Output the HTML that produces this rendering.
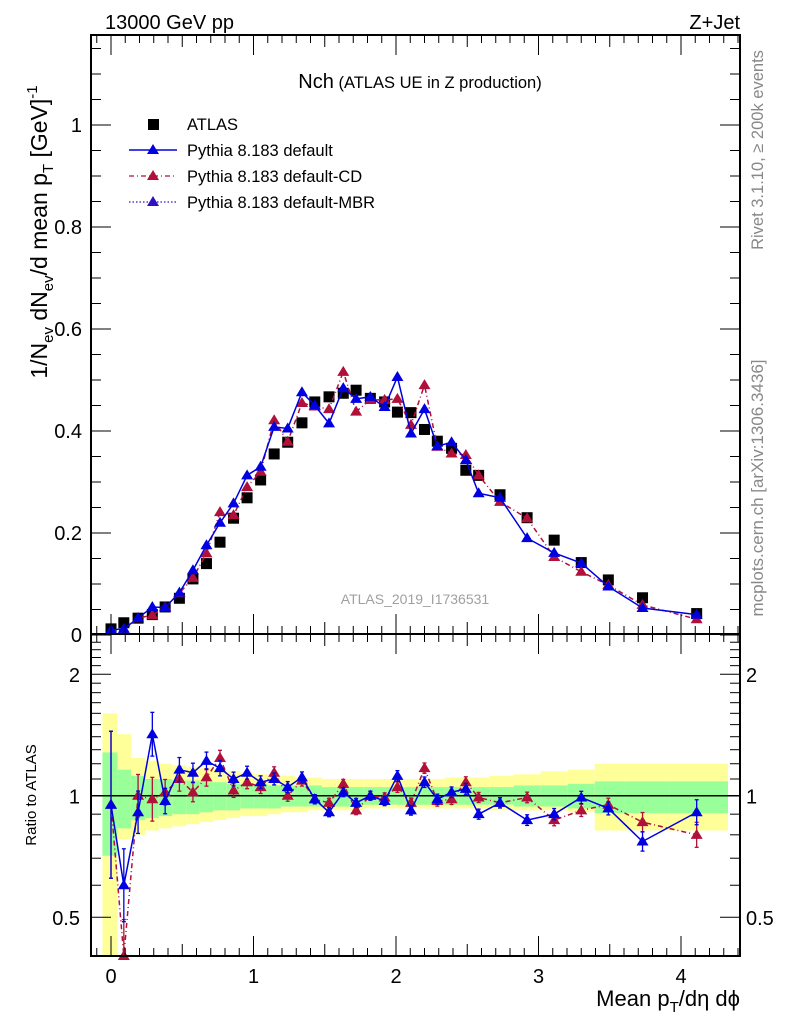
<!DOCTYPE html>
<html><head><meta charset="utf-8"><style>
body{margin:0;background:#fff}
svg text{font-family:"Liberation Sans",sans-serif}
</style></head><body>
<svg id="c" width="786" height="1024" xmlns="http://www.w3.org/2000/svg">
<g id="bands"></g><g id="marks"></g><g id="axes"></g>
<text x="105" y="29" font-size="20">13000 GeV pp</text>
<text x="740" y="29" font-size="20" text-anchor="end">Z+Jet</text>
<text x="420" y="88" text-anchor="middle"><tspan font-size="20">Nch</tspan><tspan font-size="16.5"> (ATLAS UE in Z production)</tspan></text>
<g font-size="16.5">
<rect x="148" y="119" width="11" height="11" fill="#000"/>
<text x="187" y="130">ATLAS</text>
<line x1="129" y1="150" x2="177" y2="150" stroke="#0000e0" stroke-width="1.5"/>
<path d="M153 144 L159 154 L147 154Z" fill="#0000e0"/>
<text x="187" y="156">Pythia 8.183 default</text>
<line x1="129" y1="176" x2="177" y2="176" stroke="#b0103a" stroke-width="1.3" stroke-dasharray="5,3,1,3"/>
<path d="M153 170 L159 180 L147 180Z" fill="#b0103a"/>
<text x="187" y="182">Pythia 8.183 default-CD</text>
<line x1="129" y1="202" x2="177" y2="202" stroke="#3010c0" stroke-width="1.3" stroke-dasharray="1.5,2"/>
<path d="M153 196 L159 206 L147 206Z" fill="#3010c0"/>
<text x="187" y="208">Pythia 8.183 default-MBR</text>
</g>
<text x="415" y="604" font-size="14" fill="#a0a0a0" text-anchor="middle">ATLAS_2019_I1736531</text>
<text transform="translate(763,150) rotate(-90)" font-size="16.5" fill="#888" text-anchor="middle">Rivet 3.1.10, ≥ 200k events</text>
<text transform="translate(763,488) rotate(-90)" font-size="17" fill="#888" text-anchor="middle">mcplots.cern.ch [arXiv:1306.3436]</text>
<text transform="translate(47,232) rotate(-90)" font-size="23" text-anchor="middle">1/N<tspan font-size="15" dy="6">ev</tspan><tspan dy="-6"> dN</tspan><tspan font-size="15" dy="6">ev</tspan><tspan dy="-6">/d mean p</tspan><tspan font-size="15" dy="6">T</tspan><tspan dy="-6"> [GeV]</tspan><tspan font-size="15" dy="-10">-1</tspan></text>
<text transform="translate(36,795) rotate(-90)" font-size="15" text-anchor="middle">Ratio to ATLAS</text>
<text x="740" y="1006" font-size="22" text-anchor="end">Mean p<tspan font-size="15" dy="6">T</tspan><tspan dy="-6">/dη dϕ</tspan></text>
</svg>
<script>
const xs=[0,0.09,0.19,0.29,0.38,0.48,0.575,0.67,0.765,0.86,0.955,1.05,1.145,1.24,1.34,1.43,1.53,1.63,1.72,1.82,1.92,2.01,2.105,2.2,2.29,2.39,2.49,2.58,2.73,2.92,3.11,3.30,3.49,3.73,4.11];
const atlas=[0.012,0.024,0.033,0.04,0.055,0.072,0.11,0.14,0.182,0.229,0.269,0.304,0.355,0.378,0.416,0.457,0.467,0.474,0.48,0.464,0.457,0.437,0.436,0.403,0.38,0.366,0.323,0.313,0.275,0.23,0.186,0.142,0.108,0.073,0.042];
const pyDef=[0.01,0.012,0.033,0.055,0.054,0.083,0.127,0.176,0.22,0.258,0.313,0.33,0.408,0.405,0.476,0.45,0.415,0.484,0.463,0.467,0.447,0.506,0.395,0.443,0.37,0.378,0.343,0.278,0.269,0.19,0.161,0.141,0.095,0.053,0.04];
const pyCD=[0.008,0.008,0.033,0.039,0.055,0.082,0.112,0.16,0.241,0.235,0.29,0.32,0.421,0.379,0.455,0.448,0.443,0.516,0.438,0.461,0.461,0.463,0.412,0.49,0.369,0.356,0.353,0.313,0.261,0.229,0.153,0.124,0.098,0.059,0.031];
const rDef=[0.95,0.6,0.91,1.42,0.97,1.16,1.14,1.22,1.17,1.1,1.14,1.08,1.1,1.05,1.11,0.98,0.91,1.02,0.96,1.0,0.97,1.12,0.92,1.08,0.98,1.02,1.04,0.9,0.96,0.87,0.9,0.99,0.93,0.77,0.91];
const rCD=[0.95,0.37,1.0,0.98,1.02,1.1,1.02,1.11,1.24,1.03,1.08,1.05,1.14,1.0,1.09,0.98,0.96,1.07,0.92,1.0,0.99,1.05,0.96,1.17,0.97,0.98,1.08,0.99,0.96,0.99,0.87,0.92,0.95,0.86,0.8];
const errAbs=[0.006,0.005,0.004,0.005,0.004,0.005,0.006,0.007,0.008,0.009,0.01,0.011,0.012,0.012,0.013,0.012,0.012,0.012,0.012,0.012,0.012,0.013,0.012,0.012,0.011,0.011,0.01,0.009,0.008,0.007,0.006,0.005,0.004,0.004,0.003];
const gHi=[1.28,1.16,1.12,1.10,1.10,1.09,1.09,1.08,1.08,1.07,1.07,1.07,1.06,1.06,1.06,1.06,1.05,1.05,1.05,1.05,1.05,1.05,1.05,1.05,1.05,1.05,1.05,1.05,1.05,1.06,1.06,1.07,1.085,1.085,1.085];
const gLo=[0.71,0.83,0.87,0.88,0.89,0.90,0.90,0.91,0.92,0.92,0.93,0.93,0.93,0.94,0.94,0.94,0.94,0.94,0.94,0.95,0.95,0.95,0.95,0.95,0.95,0.95,0.95,0.95,0.95,0.94,0.94,0.93,0.905,0.905,0.905];
const yHi=[1.60,1.42,1.24,1.22,1.20,1.19,1.18,1.17,1.16,1.15,1.14,1.13,1.12,1.12,1.11,1.11,1.10,1.10,1.10,1.10,1.10,1.10,1.10,1.10,1.10,1.11,1.11,1.11,1.12,1.13,1.15,1.16,1.20,1.20,1.20];
const yLo=[0.40,0.78,0.80,0.82,0.83,0.84,0.85,0.86,0.87,0.88,0.89,0.89,0.90,0.91,0.91,0.92,0.92,0.92,0.92,0.93,0.93,0.93,0.93,0.93,0.93,0.93,0.93,0.93,0.92,0.92,0.92,0.91,0.82,0.82,0.82];
const xTicks=[0,1,2,3,4];
const yTicks=[0,0.2,0.4,0.6,0.8,1];
const yTickLabels=["0","0.2","0.4","0.6","0.8","1"];
const rTicks=[0.5,1,2];
const rTickLabels=["0.5","1","2"];

const L=91,R=740,T=35,MB=634,RB=956;
const X=u=>111+142.5*u;
const Y=v=>635-510*v;
const RY=r=>Math.min(RB,Math.max(MB,795.7-121.5*Math.log2(r)));
const NS="http://www.w3.org/2000/svg";
function mk(p,tag,at){const e=document.createElementNS(NS,tag);for(const k in at)e.setAttribute(k,at[k]);p.appendChild(e);return e;}
const bands=document.getElementById('bands'),marks=document.getElementById('marks'),axes=document.getElementById('axes');
const edges=[-0.06];
for(let i=0;i<xs.length-1;i++)edges.push((xs[i]+xs[i+1])/2);
edges.push(4.33);
for(let i=0;i<xs.length;i++){
 const a=X(edges[i]),b=X(edges[i+1]);
 const ry=mk(bands,'rect',{x:a,y:RY(yHi[i]),width:b-a,height:RY(yLo[i])-RY(yHi[i]),fill:'#ffff99'});
 
 
 const rg=mk(bands,'rect',{x:a,y:RY(gHi[i]),width:b-a,height:RY(gLo[i])-RY(gHi[i]),fill:'#99ff99'});
 
 
}
const one=mk(bands,'line',{x1:L,x2:R,y1:RY(1),y2:RY(1),stroke:'#000','stroke-width':1.5});



function tri(g,x,y,c){return mk(g,'path',{d:`M${x} ${y-6} L${x+6} ${y+4} L${x-6} ${y+4}Z`,fill:c});}
function series(vals,fy,errs,color,dash,name){
 const g=mk(marks,'g',{});
 
 
 const pts=vals.map((v,i)=>X(xs[i])+','+fy(v,i)).join(' ');
 const pl=mk(g,'polyline',{points:pts,fill:'none',stroke:color,'stroke-width':1.5});
 if(dash)pl.setAttribute('stroke-dasharray',dash);
 vals.forEach((v,i)=>{
  const x=X(xs[i]),y=fy(v,i),e=errs(i);
  const y1=Math.max(MB,Math.min(RB,y-e)),y2=Math.max(MB,Math.min(RB,y+e));
  mk(g,'line',{x1:x,x2:x,y1:y1,y2:y2,stroke:color,'stroke-width':1.3});
  mk(g,'line',{x1:x-2,x2:x+2,y1:y1,y2:y1,stroke:color,'stroke-width':1.3});
  mk(g,'line',{x1:x-2,x2:x+2,y1:y2,y2:y2,stroke:color,'stroke-width':1.3});
  const t=tri(g,x,y,color);
  
  
 });
}
atlas.forEach((v,i)=>{
 const s=mk(marks,'rect',{x:X(xs[i])-5.5,y:Y(v)-5.5,width:11,height:11,fill:'#000'});
 
 
});
series(pyCD,v=>Y(v),i=>errAbs[i]*510,'#b0103a','5,3,1,3','default-cd-main');
series(pyDef,v=>Y(v),i=>errAbs[i]*510,'#0000e0',null,'default-main');
const rErr=i=>Math.min(0.42,errAbs[i]/atlas[i])*121.5*1.44;
series(rCD,v=>RY(v),rErr,'#b0103a','5,3,1,3','default-cd-ratio');
series(rDef,v=>RY(v),rErr,'#0000e0',null,'default-ratio');

const f1=mk(axes,'rect',{x:L,y:T,width:R-L,height:MB-T,fill:'none',stroke:'#000','stroke-width':2});

const f2=mk(axes,'rect',{x:L,y:MB,width:R-L,height:RB-MB,fill:'none',stroke:'#000','stroke-width':2});

for(let k=-1;k<=44;k++){const u=k/10,x=X(u);if(x<L||x>R)continue;const big=k%10===0,len=big?20:(k%5===0?12:8);
 [[T,1],[MB,-1],[MB,1],[RB,-1]].forEach(([y0,d])=>mk(axes,'line',{x1:x,x2:x,y1:y0,y2:y0+d*len,stroke:'#000','stroke-width':1}));}
xTicks.forEach(u=>{const t=mk(axes,'text',{x:X(u),y:983,'font-size':20,'text-anchor':'middle'});t.textContent=String(u);
 });
for(let k=0;k<=23;k++){const v=k*0.05,y=Y(v);if(y<T)continue;const big=k%4===0,len=big?20:10;
 mk(axes,'line',{x1:L,x2:L+len,y1:y,y2:y,stroke:'#000'});mk(axes,'line',{x1:R,x2:R-len,y1:y,y2:y,stroke:'#000'});}
yTicks.forEach((v,i)=>{const t=mk(axes,'text',{x:82,y:Y(v)+7,'font-size':20,'text-anchor':'end'});t.textContent=yTickLabels[i];
 });
[0.4,0.5,0.6,0.7,0.8,0.9,1,1.1,1.2,1.3,1.4,1.5,1.6,1.7,1.8,1.9,2,2.1,2.2,2.3,2.4].forEach(r=>{const y=RY(r);if(y<=MB+1||y>=RB-1)return;
 const big=(r===0.5||r===1||r===2),len=big?20:10;
 mk(axes,'line',{x1:L,x2:L+len,y1:y,y2:y,stroke:'#000'});mk(axes,'line',{x1:R,x2:R-len,y1:y,y2:y,stroke:'#000'});});
rTicks.forEach((r,i)=>{const t=mk(axes,'text',{x:80,y:RY(r)+8,'font-size':20,'text-anchor':'end'});t.textContent=rTickLabels[i];
 
 const t2=mk(axes,'text',{x:746,y:RY(r)+8,'font-size':20});t2.textContent=rTickLabels[i];
 });
</script>
</body></html>
